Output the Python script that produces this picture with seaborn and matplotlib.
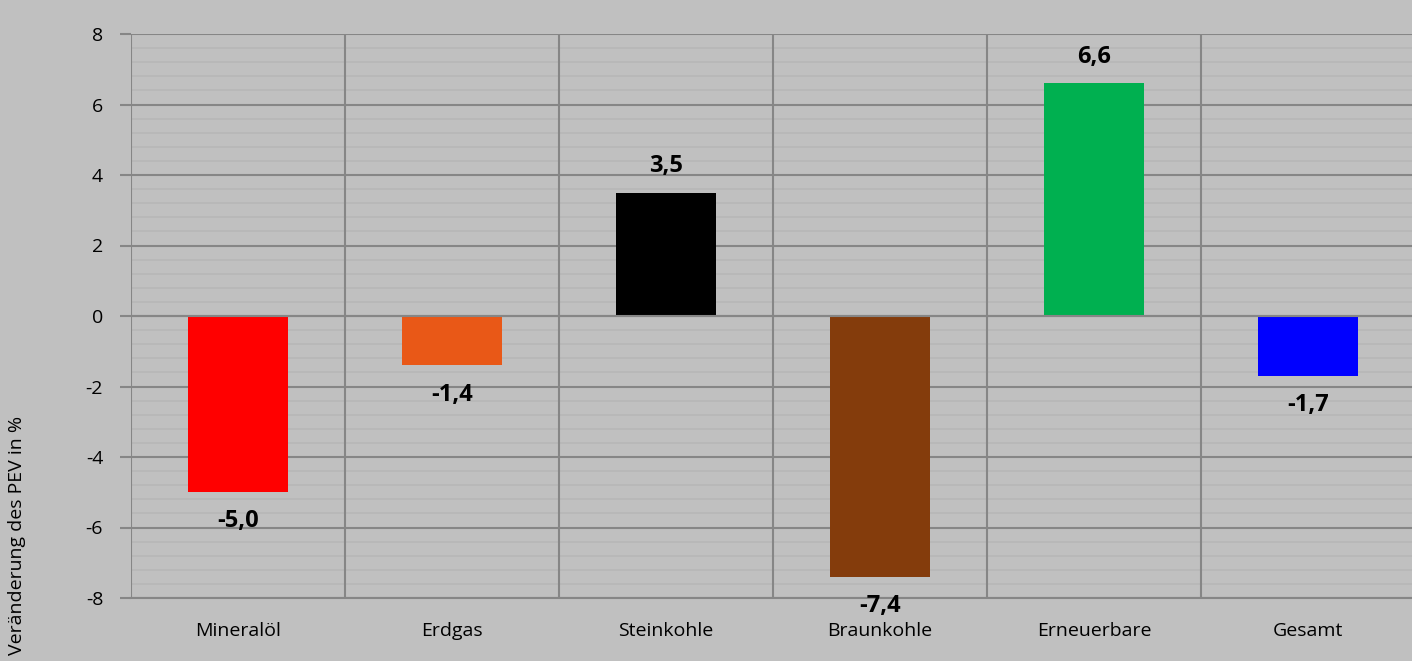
import matplotlib
matplotlib.use("Agg")
import matplotlib.pyplot as plt
import seaborn as sns
import pandas as pd
import numpy as np
from matplotlib.ticker import MultipleLocator

categories = ["Mineralöl", "Erdgas", "Steinkohle", "Braunkohle", "Erneuerbare", "Gesamt"]
values = [-5.0, -1.4, 3.5, -7.4, 6.6, -1.7]
value_labels = ["-5,0", "-1,4", "3,5", "-7,4", "6,6", "-1,7"]
colors = ["#FF0000", "#E95817", "#000000", "#843C0C", "#00B050", "#0000FF"]
y_ticks = [-8, -6, -4, -2, 0, 2, 4, 6, 8]
y_label = "Veränderung des PEV in %"

df = pd.DataFrame({"cat": categories, "val": values})

sns.set_theme(style="white")
plt.rcParams['font.family'] = ['Open Sans', 'DejaVu Sans']

bg = "#C0C0C0"
fig = plt.figure(figsize=(14.12, 6.61), dpi=100, facecolor=bg)
ax = fig.add_axes([131/1412, 1 - 598/661, (1415 - 131)/1412, (598 - 34)/661])
ax.set_facecolor(bg)

sns.barplot(data=df, x="cat", y="val", hue="cat", palette=colors, legend=False,
            width=0.47, saturation=1, ax=ax, zorder=3, linewidth=0, edgecolor="none")

ax.set_ylim(-8, 8)
ax.set_xlim(-0.5, len(categories) - 0.5)
ax.set_yticks(y_ticks)
ax.set_yticklabels([str(t) for t in y_ticks])
ax.yaxis.set_minor_locator(MultipleLocator(0.4))
ax.grid(which="major", axis="y", color="#868686", lw=1.5, zorder=1)
ax.grid(which="minor", axis="y", color="#B6B6B6", lw=1.1, zorder=0)
ax.axhline(0, color="#868686", lw=1.5, zorder=4)
for b in np.arange(len(categories) + 1) - 0.5:
    ax.axvline(b, color="#868686", lw=1.5, zorder=2)

for s in ax.spines.values():
    s.set_visible(False)
ax.spines["bottom"].set_visible(True)
ax.spines["bottom"].set_color("#868686")
ax.spines["bottom"].set_linewidth(1.5)

ax.tick_params(axis="y", which="major", length=8, width=1.5, color="#868686",
               labelsize=14, pad=12, left=True)
ax.tick_params(axis="y", which="minor", length=0)
ax.tick_params(axis="x", length=0, labelsize=14, pad=17)
ax.set_xlabel("")
ax.set_ylabel("")
for lbl in ax.get_xticklabels() + ax.get_yticklabels():
    lbl.set_color("#000000")

for i, (v, t) in enumerate(zip(values, value_labels)):
    off = 19 if v >= 0 else -21
    ax.annotate(t, (i, v), xytext=(0, off), textcoords="offset points",
                ha="center", va="center", fontsize=17, fontweight="bold",
                color="#000000", zorder=5, annotation_clip=False)

fig.text(17/1412, 1 - 535/661, y_label, rotation=90, ha="center", va="center",
         fontsize=14, color="#000000")

fig.savefig("out.png", dpi=100, facecolor=bg)
